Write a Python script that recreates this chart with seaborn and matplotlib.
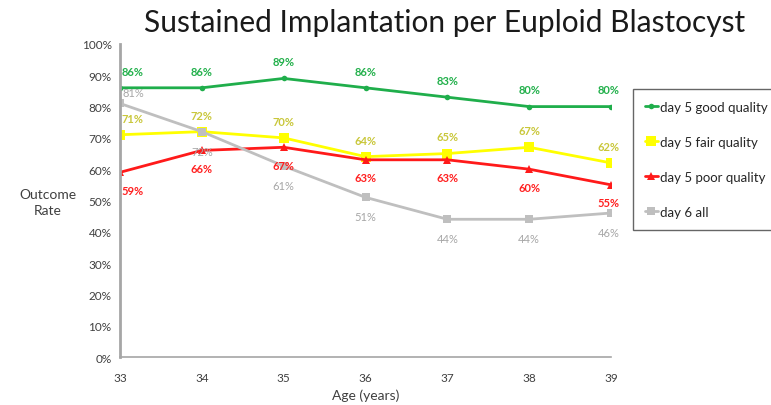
import matplotlib
matplotlib.use("Agg")
import matplotlib.pyplot as plt
import seaborn as sns
import pandas as pd

# дані з графіка
ages = [33, 34, 35, 36, 37, 38, 39]
series_names = ["day 5 good quality", "day 5 fair quality", "day 5 poor quality", "day 6 all"]
good = [86, 86, 89, 86, 83, 80, 80]
fair = [71, 72, 70, 64, 65, 67, 62]
poor = [59, 66, 67, 63, 63, 60, 55]
day6 = [81, 72, 61, 51, 44, 44, 46]
y_ticks = [0, 10, 20, 30, 40, 50, 60, 70, 80, 90, 100]

values = [good, fair, poor, day6]
rows = []
for name, vals in zip(series_names, values):
    for a, v in zip(ages, vals):
        rows.append({"Age": a, "Rate": v / 100, "Series": name})
df = pd.DataFrame(rows)

sns.set_style("white")
plt.rcParams["font.family"] = ["Lato", "DejaVu Sans"]

line_colors = ["#1fae4b", "#ffff00", "#ff1a1a", "#bfbfbf"]
label_colors = ["#22b04b", "#c9c73a", "#ff2020", "#a6a6a6"]
markers = ["o", "s", "^", "s"]
msizes = [4, 7, 6, 6]

fig = plt.figure(figsize=(7.71, 4.06), dpi=100)
ax = fig.add_axes([0.1556, 0.1182, 0.637, 0.771])

for i, name in enumerate(series_names):
    sub = df[df["Series"] == name]
    sns.lineplot(data=sub, x="Age", y="Rate", ax=ax, color=line_colors[i],
                 marker=markers[i], markersize=msizes[i], markeredgewidth=0,
                 linewidth=2, label=name, legend=False)

# підписи значень
for i, vals in enumerate(values):
    for a, v in zip(ages, vals):
        if i in (0, 1):
            dx, dy = 0, 8
        elif i == 2:
            dx, dy = 0, -17
        else:
            dx, dy = (2, 4) if a == 33 else (0, -18)
        ha = "left" if a == 33 else "center"
        if a == 33 and dx == 0:
            dx = 1
        if a == 39:
            dx = -2
        ax.annotate(f"{v}%", (a, v / 100), xytext=(dx, dy), textcoords="offset points",
                    ha=ha, va="bottom", fontsize=8, color=label_colors[i],
                    fontweight="bold" if i < 3 else "normal")

ax.set_xlim(33, 39)
ax.set_ylim(0, 1)
ax.set_yticks([t / 100 for t in y_ticks])
ax.set_yticklabels([f"{t}%" for t in y_ticks], fontsize=8.5, color="#404040")
ax.set_xticks(ages)
ax.set_xticklabels([str(a) for a in ages], fontsize=8.5, color="#404040")
ax.tick_params(axis="y", length=0, pad=6)
ax.tick_params(axis="x", length=0, pad=11)
for s in ["top", "right"]:
    ax.spines[s].set_visible(False)
ax.spines["left"].set_color("#a6a6a6")
ax.spines["left"].set_linewidth(2)
ax.spines["bottom"].set_color("#a6a6a6")
ax.spines["bottom"].set_linewidth(1.2)

ax.set_xlabel("Age (years)", fontsize=10, color="#404040", labelpad=4)
ax.set_ylabel("")
fig.text(0.062, 0.5, "Outcome\nRate", ha="center", va="center", fontsize=10,
         color="#404040", linespacing=1.4)

fig.text(0.577, 0.943, "Sustained Implantation per Euploid Blastocyst",
         ha="center", va="center", fontsize=21.5, color="#1a1a1a")

handles, labels = ax.get_legend_handles_labels()
leg = fig.legend(handles, labels, loc="upper left", bbox_to_anchor=(0.812, 0.795),
                 frameon=True, fontsize=9.5, handlelength=1.0, handletextpad=0.2,
                 labelspacing=1.75, borderpad=0.9, fancybox=False)
leg.get_frame().set_edgecolor("#404040")
leg.get_frame().set_linewidth(1.0)

plt.savefig("out.png", dpi=100)
